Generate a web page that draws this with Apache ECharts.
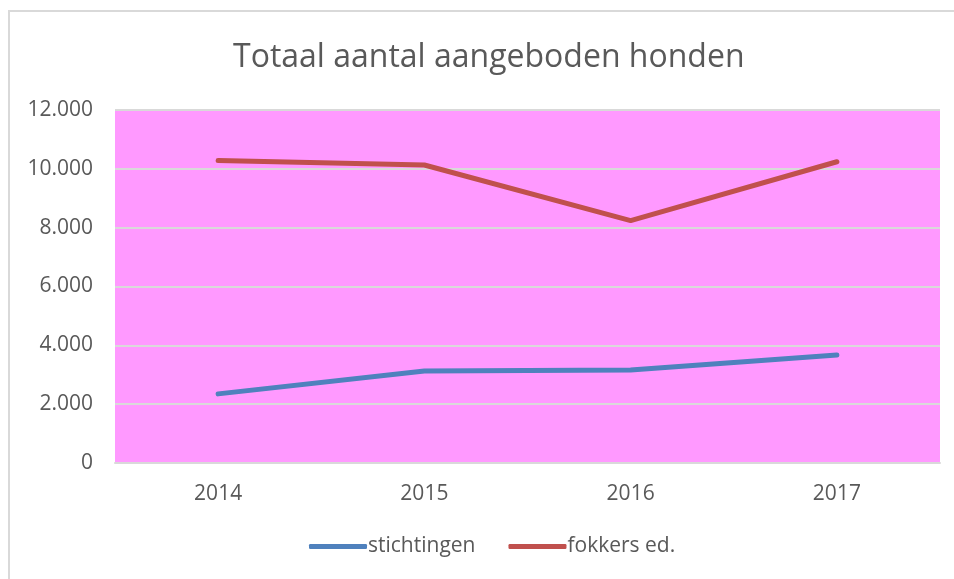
<!DOCTYPE html>
<html>
<head>
<meta charset="utf-8">
<script src="https://cdn.jsdelivr.net/npm/echarts@6/dist/echarts.min.js"></script>
<style>
  body { margin: 0; background: #fff; }
  #chart { position: absolute; left: 0; top: 0; width: 954px; height: 579px; }
  .frame {
    position: absolute; left: 8px; top: 10px; width: 1000px; height: 600px;
    border-left: 2px solid #d9d9d9; border-top: 2px solid #d9d9d9;
    pointer-events: none;
  }
</style>
</head>
<body>
<div id="chart"></div>
<div class="frame"></div>
<script>
const years = ["2014", "2015", "2016", "2017"];
const stichtingen = [2350, 3130, 3160, 3670];
const fokkers = [10280, 10130, 8240, 10240];
const yTicks = [0, 2000, 4000, 6000, 8000, 10000, 12000];

const font = "'Open Sans', 'Noto Sans', sans-serif";

// 12000 -> "12.000"
function dutchNumber(v) {
  return String(v).replace(/\B(?=(\d{3})+(?!\d))/g, ".");
}

const chart = echarts.init(document.getElementById("chart"));

chart.setOption({
  animation: false,
  title: {
    text: "Totaal aantal aangeboden honden",
    left: 228,
    top: 37,
    textStyle: { fontFamily: font, fontSize: 32, fontWeight: "normal", color: "#595959" },
  },
  grid: { left: 115, right: 14, top: 110, bottom: 116, backgroundColor: "#ff99ff", show: true, borderWidth: 0 },
  legend: {
    bottom: 17,
    left: 304,
    icon: "roundRect",
    itemWidth: 58,
    itemHeight: 5,
    itemGap: 33,
    textStyle: { fontFamily: font, fontSize: 21, color: "#595959", padding: [0, 0, 0, -4] },
    data: ["stichtingen", "fokkers ed."],
  },
  xAxis: {
    type: "category",
    data: years,
    boundaryGap: true,
    axisLine: { lineStyle: { color: "#d9d9d9", width: 2 } },
    axisTick: { show: false },
    axisLabel: { fontFamily: font, fontSize: 21, color: "#595959", margin: 21 },
  },
  yAxis: {
    type: "value",
    min: yTicks[0],
    max: yTicks[yTicks.length - 1],
    interval: 2000,
    axisLine: { show: false },
    axisTick: { show: false },
    splitLine: { lineStyle: { color: "#d9d9d9", width: 2 } },
    axisLabel: { fontFamily: font, fontSize: 21, color: "#595959", margin: 22, formatter: dutchNumber },
  },
  series: [
    {
      name: "stichtingen",
      type: "line",
      data: stichtingen,
      symbol: "none",
      color: "#4f81bd",
      lineStyle: { width: 5, cap: "round", join: "round" },
    },
    {
      name: "fokkers ed.",
      type: "line",
      data: fokkers,
      symbol: "none",
      color: "#c0504d",
      lineStyle: { width: 5, cap: "round", join: "round" },
    },
  ],
});
</script>
</body>
</html>
